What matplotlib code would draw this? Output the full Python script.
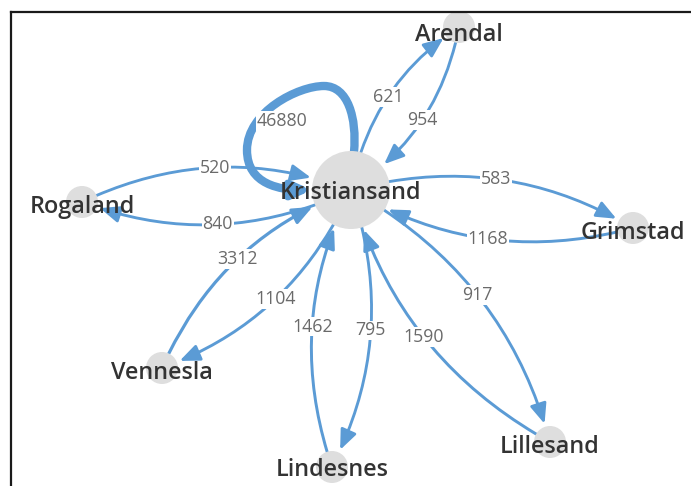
import matplotlib
matplotlib.use("Agg")
import matplotlib.pyplot as plt
from matplotlib.patches import FancyArrowPatch, Circle
from matplotlib.path import Path
from matplotlib.lines import Line2D

# ---------------- data ----------------
node_names = ["Kristiansand", "Arendal", "Rogaland", "Grimstad",
              "Vennesla", "Lindesnes", "Lillesand"]

edge_src = ["Kristiansand", "Arendal", "Kristiansand", "Rogaland", "Kristiansand",
            "Kristiansand", "Grimstad", "Vennesla", "Kristiansand", "Lindesnes",
            "Kristiansand", "Lillesand", "Kristiansand"]
edge_tgt = ["Arendal", "Kristiansand", "Kristiansand", "Kristiansand", "Rogaland",
            "Grimstad", "Kristiansand", "Kristiansand", "Vennesla", "Kristiansand",
            "Lindesnes", "Kristiansand", "Lillesand"]
edge_val = [621, 954, 46880, 520, 840, 583, 1168, 3312, 1104, 1462, 795, 1590, 917]

# ---------------- layout (pixel space) ----------------
node_x = [351, 459, 82, 633, 162, 332, 550]
node_y = [190, 27, 202, 228, 368, 467, 442]
node_r = [39, 16, 16, 16, 16, 16, 16]
label_dy = [3, 8, 5, 5, 5, 3, 5]

W, H = 691, 486
PT = 72 / 100.0          # points per pixel
BLUE = "#5b9bd5"
NODE_C = "#dedede"
CURV = 0.21

fig = plt.figure(figsize=(W / 100, H / 100), dpi=100)
ax = fig.add_axes([0, 0, 1, 1])
ax.set_xlim(0, W)
ax.set_ylim(H, 0)
ax.axis("off")

pos = {n: (x, y) for n, x, y in zip(node_names, node_x, node_y)}
rad = {n: r for n, r in zip(node_names, node_r)}
vmax = max(edge_val)

label_kw = dict(fontsize=12.8, color="#6a6a6a", family=["Open Sans", "DejaVu Sans"],
                ha="center", va="center", zorder=6,
                bbox=dict(boxstyle="square,pad=0.05", fc="white", ec="none"))

for s, t, v in zip(edge_src, edge_tgt, edge_val):
    lw = 2.0 + 4.0 * v / vmax
    if s == t:
        cx, cy = pos[s]
        r = rad[s]
        offs = [(3, -38),
                (6, -72), (-3, -104), (-27, -104),
                (-53, -104), (-104, -78), (-104, -40),
                (-104, -5), (-70, 0), (-r, 0)]
        verts = [(cx + a, cy + b) for a, b in offs]
        codes = [Path.MOVETO] + [Path.CURVE4] * 9
        loop = FancyArrowPatch(path=Path(verts, codes),
                               arrowstyle="-|>,head_length=1.0,head_width=0.45",
                               mutation_scale=10, lw=lw, color=BLUE, zorder=2)
        ax.add_patch(loop)
        ax.text(cx - 69, cy - 69, str(v), **label_kw)
    else:
        (x1, y1), (x2, y2) = pos[s], pos[t]
        arr = FancyArrowPatch((x1, y1), (x2, y2),
                              connectionstyle=f"arc3,rad={-CURV}",
                              arrowstyle="-|>,head_length=1.2,head_width=0.5",
                              mutation_scale=10, lw=lw, color=BLUE,
                              shrinkA=rad[s] * PT, shrinkB=(rad[t] + 3) * PT,
                              zorder=2)
        ax.add_patch(arr)
        dx, dy = x2 - x1, y2 - y1
        mx, my = (x1 + x2) / 2, (y1 + y2) / 2
        ax.text(mx + 0.5 * CURV * dy, my - 0.5 * CURV * dx, str(v), **label_kw)

for n, ldy in zip(node_names, label_dy):
    x, y = pos[n]
    ax.add_patch(Circle((x, y), rad[n], fc=NODE_C, ec="none", zorder=3))
    ax.text(x, y + ldy, n, fontsize=16.8,
            fontweight="semibold", color="#333333",
            family=["Open Sans", "DejaVu Sans"], ha="center", va="center", zorder=7)

# frame lines (top and left)
fig.add_artist(Line2D([10.5 / W, 10.5 / W], [0, 1 - 12.5 / H], transform=fig.transFigure,
                      color="#1a1a1a", lw=1.6))
fig.add_artist(Line2D([10.5 / W, 1], [1 - 12.5 / H, 1 - 12.5 / H], transform=fig.transFigure,
                      color="#1a1a1a", lw=1.6))

fig.savefig("out.png", dpi=100)
